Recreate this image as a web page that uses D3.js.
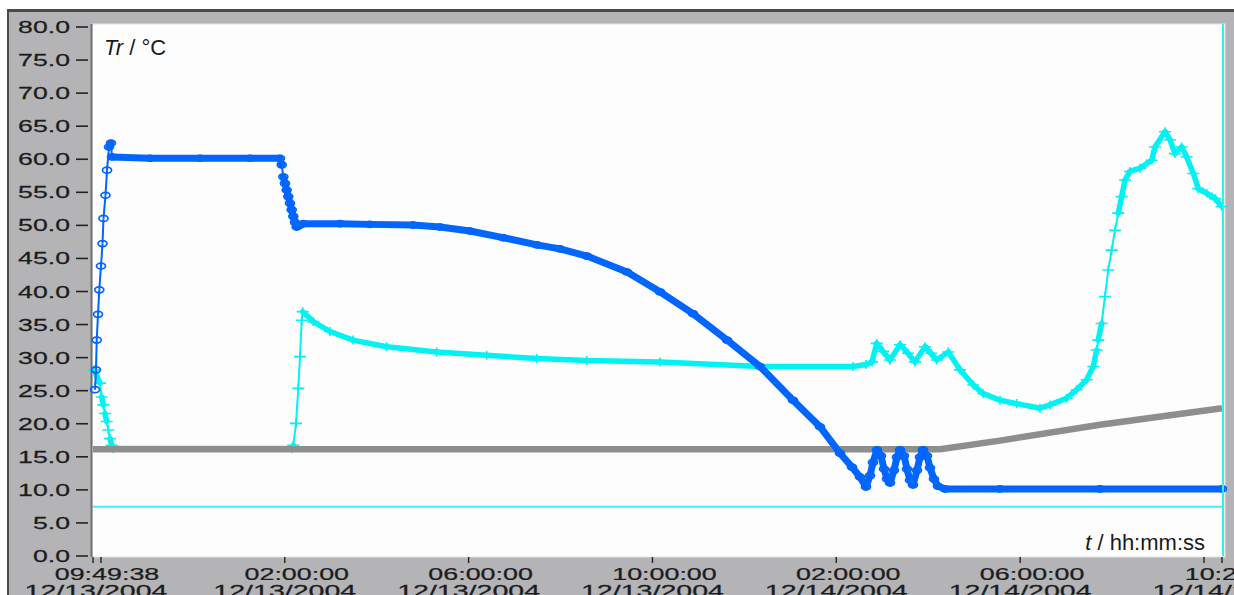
<!DOCTYPE html>
<html>
<head>
<meta charset="utf-8">
<script src="https://cdn.jsdelivr.net/npm/d3@7"></script>
<style>
  html, body { margin: 0; padding: 0; background: #fff; }
  svg { display: block; font-family: "Liberation Sans", Arial, sans-serif; }
</style>
</head>
<body>
<svg id="chart" width="1234" height="595"></svg>
<script>
// time of first sample; all series times are hours after it
const startTime = "12/13/2004 09:49:38";
const endHours = 24.565;

// Tr, reactor temperature (blue, circle markers)
const trHours = [0.044, 0.065, 0.081, 0.109, 0.137, 0.174, 0.207, 0.228, 0.272, 0.305, 0.348, 0.392, 0.413,
  1.240, 2.328, 3.416, 4.069, 4.106, 4.141, 4.177, 4.214, 4.249, 4.286, 4.323, 4.358, 4.395, 4.432, 4.482, 4.576,
  5.374, 6.027, 6.963, 7.550, 8.203, 8.921, 9.661, 10.161, 10.749, 11.619, 12.337, 13.055, 13.795, 14.513,
  15.231, 15.818, 16.253, 16.514, 16.688, 16.819, 16.906, 16.971, 17.058, 17.145, 17.211, 17.276, 17.341,
  17.428, 17.493, 17.559, 17.646, 17.711, 17.776, 17.842, 17.929, 17.994, 18.059, 18.146, 18.211, 18.298,
  18.385, 18.538, 19.734, 21.910, 24.565];
const trValues = [25.0, 28.0, 32.5, 36.4, 40.1, 43.7, 47.1, 50.9, 54.4, 58.2, 61.7, 62.3, 60.2,
  60.0, 60.0, 60.0, 60.0, 59.0, 57.2, 56.2, 55.2, 54.2, 53.2, 52.2, 51.2, 50.3, 49.6, 49.8, 50.1,
  50.1, 50.0, 49.9, 49.6, 49.0, 48.0, 46.9, 46.3, 45.2, 42.8, 39.8, 36.5, 32.5, 28.5,
  23.4, 19.4, 15.4, 13.3, 11.8, 10.3, 12.0, 14.0, 15.9, 15.0, 13.0, 11.5, 10.9,
  12.8, 14.8, 15.9, 15.0, 13.0, 11.3, 10.6, 12.8, 14.8, 15.9, 15.0, 13.2, 11.5,
  10.4, 10.0, 10.0, 10.0, 10.0];

// second temperature (cyan, plus markers)
const tjHours = [0.022, 0.152, 0.189, 0.224, 0.261, 0.298, 0.333, 0.370, 0.407, 0.435,
  4.330, 4.358, 4.417, 4.467, 4.504, 4.541, 4.563, 4.793, 5.157, 5.657, 6.390, 7.478, 8.566, 9.654,
  10.742, 12.337, 14.513, 16.537, 16.819, 16.950, 17.052, 17.189, 17.341, 17.559, 17.733, 17.885,
  18.103, 18.233, 18.357, 18.610, 18.864, 19.154, 19.371, 19.735, 20.098, 20.605, 20.822, 21.184,
  21.402, 21.620, 21.764, 21.838, 21.872, 21.946, 22.018, 22.090, 22.164, 22.236, 22.308, 22.382,
  22.454, 22.563, 22.781, 23.035, 23.107, 23.325, 23.433, 23.542, 23.688, 23.797, 23.941, 24.050,
  24.232, 24.413, 24.559];
const tjValues = [28.0, 26.0, 23.9, 22.7, 21.4, 20.2, 18.9, 17.6, 16.6, 16.1,
  16.1, 16.6, 19.9, 25.2, 30.0, 35.5, 36.8, 35.3, 33.8, 32.5, 31.5, 30.7, 30.2, 29.7,
  29.4, 29.2, 28.5, 28.5, 28.8, 29.2, 32.0, 30.8, 29.5, 31.8, 30.5, 29.2,
  31.5, 30.5, 29.5, 30.7, 28.0, 25.7, 24.4, 23.4, 22.9, 22.2, 22.7, 23.7,
  25.0, 26.5, 28.5, 31.0, 32.5, 35.0, 39.1, 43.1, 46.1, 49.1, 51.7, 54.2,
  56.7, 58.0, 58.5, 59.7, 61.7, 64.0, 62.8, 60.7, 61.7, 60.2, 57.7, 55.4,
  54.7, 53.9, 52.7];

// third temperature (gray)
const tgHours = [0, 18.429, 19.734, 21.910, 24.565];
const tgValues = [16.0, 16.0, 17.3, 19.7, 22.2];

const cursorValue = 7.3;

const yTicks = [0, 5, 10, 15, 20, 25, 30, 35, 40, 45, 50, 55, 60, 65, 70, 75, 80];
const xTickTimes = ["12/13/2004 10:00:00", "12/13/2004 14:00:00", "12/13/2004 18:00:00", "12/13/2004 22:00:00",
  "12/14/2004 02:00:00", "12/14/2004 06:00:00", "12/14/2004 10:00:00"];
const xLabelTimes = ["12/13/2004 14:00:00", "12/13/2004 18:00:00", "12/13/2004 22:00:00",
  "12/14/2004 02:00:00", "12/14/2004 06:00:00"];

const parse = d3.timeParse("%m/%d/%Y %H:%M:%S");
const t0 = parse(startTime);
const toTime = h => new Date(+t0 + h * 3600e3);
const tEnd = toTime(endHours);

const svg = d3.select("#chart");
const W = 1234, H = 595;
const plot = {left: 93, right: 1222, top: 26, bottom: 555};

const x = d3.scaleTime().domain([t0, tEnd]).range([plot.left, plot.right]);
const y = d3.scaleLinear().domain([0, 80]).range([plot.bottom, plot.top]);

// window frame
svg.append("rect").attr("width", W).attr("height", H).attr("fill", "#fff");
svg.append("rect").attr("x", 7).attr("y", 9).attr("width", W - 7).attr("height", H - 9).attr("fill", "#4a4a4a");
svg.append("rect").attr("x", 9).attr("y", 12).attr("width", W - 9).attr("height", H - 12).attr("fill", "#b4b4b7");

// plot area
svg.append("rect").attr("x", 92).attr("y", 24).attr("width", 1133).attr("height", 533)
  .attr("fill", "#fdfdfd").attr("stroke", "#e2e2e2");
svg.append("line").attr("x1", 91.5).attr("x2", 91.5).attr("y1", 24).attr("y2", 557)
  .attr("stroke", "#707070").attr("stroke-width", 2);

// y axis labels + dashes
const yAx = svg.append("g");
yTicks.forEach(v => {
  const yy = y(v);
  yAx.append("line").attr("x1", 76).attr("x2", 88).attr("y1", yy + 1).attr("y2", yy + 1)
    .attr("stroke", "#222").attr("stroke-width", 1.6);
  yAx.append("text").attr("transform", `translate(70,${yy + 7}) scale(1.57,1)`)
    .attr("text-anchor", "end").attr("font-size", 17).attr("fill", "#1c1c1c")
    .attr("stroke", "#1c1c1c").attr("stroke-width", 0.25)
    .text(d3.format(".1f")(v));
});

// x axis ticks
const xAx = svg.append("g");
const tickDates = [t0, ...xTickTimes.map(parse), tEnd];
tickDates.forEach(d => {
  xAx.append("line").attr("x1", x(d)).attr("x2", x(d)).attr("y1", 557).attr("y2", 563)
    .attr("stroke", "#222").attr("stroke-width", 1.4);
});
const fTime = d3.timeFormat("%I:%M:%S"), fDate = d3.timeFormat("%m/%d/%Y");
const labels = [{d: t0, dt: 14, dd: 3}, ...xLabelTimes.map(s => ({d: parse(s), dt: 12, dd: 0})), {d: tEnd, dt: 15, dd: 2}];
labels.forEach(l => {
  xAx.append("text").attr("transform", `translate(${x(l.d) + l.dt},580) scale(1.58,1)`)
    .attr("text-anchor", "middle").attr("font-size", 17).attr("fill", "#1c1c1c")
    .attr("stroke", "#1c1c1c").attr("stroke-width", 0.25).text(fTime(l.d));
  xAx.append("text").attr("transform", `translate(${x(l.d) + l.dd},597) scale(1.68,1)`)
    .attr("text-anchor", "middle").attr("font-size", 17).attr("fill", "#1c1c1c")
    .attr("stroke", "#1c1c1c").attr("stroke-width", 0.25).text(fDate(l.d));
});

// titles
const yt = svg.append("text").attr("x", 104).attr("y", 55).attr("font-size", 22).attr("fill", "#1a1a1a");
yt.append("tspan").attr("font-style", "italic").text("Tr");
yt.append("tspan").text(" / °C");
const xt = svg.append("text").attr("x", 1205).attr("y", 550).attr("font-size", 22).attr("fill", "#1a1a1a")
  .attr("text-anchor", "end");
xt.append("tspan").attr("font-style", "italic").text("t");
xt.append("tspan").text(" / hh:mm:ss");

const g = svg.append("g");

// horizontal cursor
g.append("line").attr("x1", plot.left).attr("x2", plot.right).attr("y1", y(cursorValue)).attr("y2", y(cursorValue))
  .attr("stroke", "#3ff0f0").attr("stroke-width", 2);

function series(hours, values) {
  return hours.map((h, i) => ({t: toTime(h), v: values[i]}));
}

// thick band where the samples are dense, thin line where they are far apart
function drawSeries(pts, color, thick, thin) {
  const sg = g.append("g");
  for (let i = 0; i < pts.length - 1; i++) {
    const a = pts[i], b = pts[i + 1];
    const dx = Math.abs(x(b.t) - x(a.t)), dy = Math.abs(y(b.v) - y(a.v));
    const steep = dy > 5 * dx;
    sg.append("line")
      .attr("x1", x(a.t)).attr("y1", y(a.v)).attr("x2", x(b.t)).attr("y2", y(b.v))
      .attr("stroke", color).attr("stroke-width", steep ? thin : thick)
      .attr("stroke-linecap", steep ? "butt" : "round");
  }
  return sg;
}

// cyan series
const tj = series(tjHours, tjValues);
const cg = drawSeries(tj, "#00f2f2", 5.5, 2);
cg.selectAll("path.mk").data(tj).join("path").attr("class", "mk")
  .attr("d", d => `M${x(d.t) - 6},${y(d.v)}h12M${x(d.t)},${y(d.v) - 4.5}v9`)
  .attr("stroke", "#00f2f2").attr("stroke-width", 1.6).attr("fill", "none");

// gray series
const tg = series(tgHours, tgValues);
g.append("path").datum(tg)
  .attr("d", d3.line().x(d => x(d.t)).y(d => y(d.v)))
  .attr("fill", "none").attr("stroke", "#8e8e8e").attr("stroke-width", 6.5);

// blue series
const tr = series(trHours, trValues);
const bg = drawSeries(tr, "#0066ff", 7, 2);
bg.selectAll("ellipse").data(tr).join("ellipse")
  .attr("cx", d => x(d.t)).attr("cy", d => y(d.v)).attr("rx", 4.5).attr("ry", 3)
  .attr("fill", "none").attr("stroke", "#0066ff").attr("stroke-width", 1.7);

// vertical cursor at the last sample
g.append("line").attr("x1", plot.right + 1).attr("x2", plot.right + 1).attr("y1", 24).attr("y2", 556)
  .attr("stroke", "#2ff0f0").attr("stroke-width", 2);
</script>
</body>
</html>
